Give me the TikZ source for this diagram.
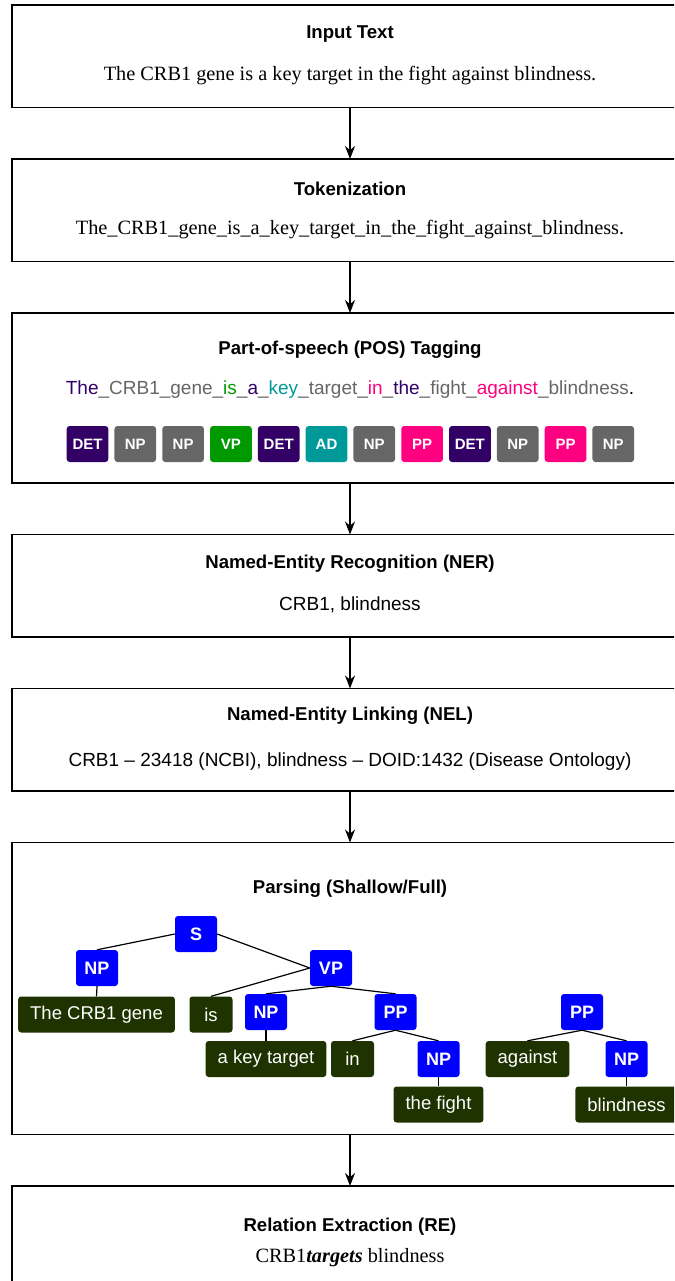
\documentclass[tikz,border=0pt]{standalone}
\usepackage{fontspec}
\setmainfont{Liberation Serif}
\setsansfont{Liberation Sans}
\usetikzlibrary{positioning, arrows.meta}

\definecolor{detpurple}{HTML}{330066}
\definecolor{npgrey}{HTML}{666666}
\definecolor{vpgreen}{HTML}{009900}
\definecolor{adteal}{HTML}{009999}
\definecolor{pppink}{HTML}{FF0080}
\definecolor{catblue}{HTML}{0000FF}
\definecolor{leafgreen}{HTML}{1E3300}

\tikzset{
  stage/.style={draw, line width=1.6pt, minimum width=676pt, minimum height=#1, inner sep=0pt, outer sep=0pt},
  stage/.default=102.5pt,
  title/.style={font=\sffamily\bfseries\fontsize{18.6}{20}\selectfont},
  body/.style={font=\fontsize{20.3}{22}\selectfont},
  sbody/.style={font=\sffamily\fontsize{19}{22}\selectfont},
  tag/.style={fill=#1, rounded corners=3pt, text=white, inner sep=0pt,
    minimum width=41.7pt, minimum height=36pt, font=\sffamily\bfseries\fontsize{15}{16}\selectfont},
  cat/.style={fill=catblue, rounded corners=3pt, text=white, inner sep=0pt,
    minimum width=42pt, minimum height=36pt, font=\sffamily\bfseries\fontsize{18}{20}\selectfont},
  leaf/.style={fill=leafgreen, rounded corners=3pt, text=white, inner xsep=12pt, inner ysep=0pt,
    minimum width=43pt, minimum height=36pt, font=\sffamily\fontsize{18.5}{20}\selectfont},
  flow/.style={-{Stealth[length=13pt,width=10pt]}, line width=1.5pt},
  treeline/.style={line width=1.2pt}
}

\begin{document}
\begin{tikzpicture}[x=1pt, y=-1pt, node distance=51.5pt]
   \useasboundingbox (0,0) rectangle (674,1281);
   \clip (0,0) rectangle (674,1281);

   % stage boxes
   \node[stage] (input) at (350,56.25) {};
   \node[stage] (token) [below=of input] {};
   \node[stage=170pt] (pos) [below=of token] {};
   \node[stage] (ner) [below=of pos] {};
   \node[stage] (nel) [below=of ner] {};
   \node[stage=292pt] (parse) [below=of nel] {};
   \node[stage] (rel) [below=of parse] {};

   \path[flow]
   (input) edge (token)
   (token) edge (pos)
   (pos) edge (ner)
   (ner) edge (nel)
   (nel) edge (parse)
   (parse) edge (rel);

   % texts in the boxes
   \node[title] (inputT) [below=29.5pt of input.north, anchor=center] {Input Text};
   \node[body] (inputB) [below=71pt of input.north, anchor=center] {The CRB1 gene is a key target in the fight against blindness.};

   \node[title] (tokenT) [below=29.5pt of token.north, anchor=center] {Tokenization};
   \node[body] (tokenB) [below=70.5pt of token.north, anchor=center] {The\_CRB1\_gene\_is\_a\_key\_target\_in\_the\_fight\_against\_blindness.};

   \node[title] (posT) [below=36.5pt of pos.north, anchor=center] {Part-of-speech (POS) Tagging};
   \node[sbody] (posB) [below=77pt of pos.north, anchor=center] {\textcolor{detpurple}{The}\textcolor{npgrey}{\_CRB1\_gene\_}\textcolor{vpgreen}{is}\textcolor{npgrey}{\_}\textcolor{detpurple}{a}\textcolor{npgrey}{\_}\textcolor{adteal}{key}\textcolor{npgrey}{\_target\_}\textcolor{pppink}{in}\textcolor{npgrey}{\_}\textcolor{detpurple}{the}\textcolor{npgrey}{\_fight\_}\textcolor{pppink}{against}\textcolor{npgrey}{\_blindness}.};
   \foreach \lbl/\col [count=\i from 0] in {DET/detpurple, NP/npgrey, NP/npgrey, VP/vpgreen, DET/detpurple, AD/adteal,
                                           NP/npgrey, PP/pppink, DET/detpurple, NP/npgrey, PP/pppink, NP/npgrey}
     \node[tag=\col] (tag\i) at ({87.5+47.8*\i},444) {\lbl};

   \node[title] (nerT) [below=29.5pt of ner.north, anchor=center] {Named-Entity Recognition (NER)};
   \node[sbody] (nerB) [below=70.5pt of ner.north, anchor=center] {CRB1, blindness};

   \node[title] (nelT) [below=27pt of nel.north, anchor=center] {Named-Entity Linking (NEL)};
   \node[sbody] (nelB) [below=73pt of nel.north, anchor=center] {CRB1 – 23418 (NCBI), blindness – DOID:1432 (Disease Ontology)};

   \node[title] (parseT) [below=46pt of parse.north, anchor=center] {Parsing (Shallow/Full)};

   \node[title] (relT) [below=41pt of rel.north, anchor=center] {Relation Extraction (RE)};
   \node[body] (relB) [below=72pt of rel.north, anchor=center] {CRB1\textbf{\textit{targets}} blindness};

   % parse tree
   \node[cat] (s) at (196,934) {S};
   \node[cat] (np1) at (97,968) {NP};
   \node[cat] (vp) at (331,968) {VP};
   \node[cat] (np2) at (266,1012) {NP};
   \node[cat] (pp1) at (395.5,1012) {PP};
   \node[cat] (np3) at (438.5,1059) {NP};
   \node[cat] (pp2) at (582,1012) {PP};
   \node[cat] (np4) at (626.5,1059) {NP};

   \node[leaf] (crb) at (96.5,1014.5) {The CRB1 gene};
   \node[leaf] (is) at (211,1014.5) {is};
   \node[leaf] (akt) at (266,1059) {a key target};
   \node[leaf] (in) at (352.5,1059) {in};
   \node[leaf] (fight) at (438.5,1104.5) {the fight};
   \node[leaf] (against) at (527.5,1059) {against};
   \node[leaf] (blind) at (626.5,1104.5) {blindness};

   \path[treeline]
   (s.west) edge (np1.north)
   (s.east) edge (vp.west)
   (vp.west) edge (is.north)
   (vp.south) edge (np2.north)
        edge (pp1.north)
   (np1.south) edge (crb.north)
   (np2.south) edge (akt.north)
   (pp1.south) edge (in.north)
        edge (np3.north)
   (np3.south) edge (fight.north)
   (pp2.south) edge (against.north)
        edge (np4.north)
   (np4.south) edge (blind.north);
\end{tikzpicture}
\end{document}
